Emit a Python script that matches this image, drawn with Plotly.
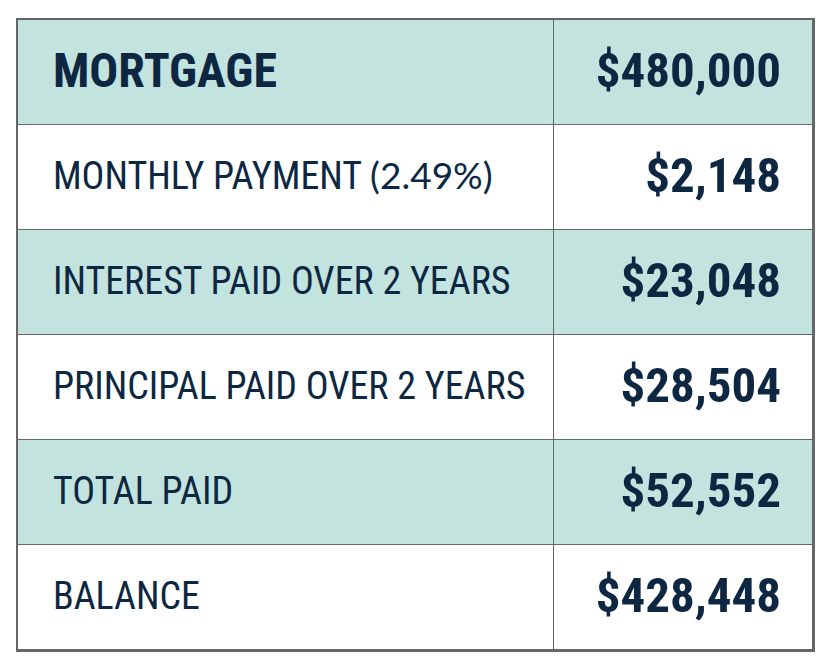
import plotly.graph_objects as go

# table content
labels = ["MORTGAGE", "MONTHLY PAYMENT", "INTEREST PAID OVER 2 YEARS",
          "PRINCIPAL PAID OVER 2 YEARS", "TOTAL PAID", "BALANCE"]
label_notes = ["", "(2.49%)", "", "", "", ""]
values = ["$480,000", "$2,148", "$23,048", "$28,504", "$52,552", "$428,448"]
shaded = [1, 0, 1, 0, 1, 0]

NAVY = "#0d2742"
TEAL = "#c3e3df"
LINE = "#666666"
FONT = "Roboto Condensed, Roboto, Liberation Sans, sans-serif"

col_edges = [0, 537, 797]
row_edges = list(range(len(labels) + 1))

fig = go.Figure()

# cell backgrounds: gaps let the grey plot background show as grid lines
fig.add_trace(go.Heatmap(
    x=col_edges,
    y=row_edges,
    z=[[s, s] for s in shaded],
    colorscale=[[0, "white"], [1, TEAL]],
    zmin=0, zmax=1,
    xgap=1, ygap=1,
    showscale=False,
    hoverinfo="skip",
))

label_text = []
for i, (lab, note) in enumerate(zip(labels, label_notes)):
    t = f"<b>{lab}</b>" if i == 0 else lab
    if note:
        t += f" <span style='font-family:Lato; font-size:37px'>{note}</span>"
    label_text.append(t)

# text sits a touch below the row centre, like the original
rows = [i + 0.52 for i in range(len(labels))]

fig.add_trace(go.Scatter(
    x=[35] * len(labels),
    y=rows,
    text=label_text,
    mode="text",
    textposition="middle right",
    textfont=dict(family=FONT, color=NAVY, size=[48] + [38] * (len(labels) - 1)),
    hoverinfo="skip",
    showlegend=False,
))

fig.add_trace(go.Scatter(
    x=[765] * len(values),
    y=rows,
    text=[f"<b>{v}</b>" for v in values],
    mode="text",
    textposition="middle left",
    textfont=dict(family=FONT, color=NAVY, size=49),
    hoverinfo="skip",
    showlegend=False,
))

axis_style = dict(showgrid=False, zeroline=False, showticklabels=False, ticks="",
                  showline=True, mirror=True, linecolor=LINE, linewidth=1.5)
fig.update_xaxes(range=[0, 797], **axis_style)
fig.update_yaxes(range=[6, 0], **axis_style)

# page body adds an 8px margin, so the figure is sized to fit inside it
fig.update_layout(
    width=815, height=653,
    margin=dict(l=10, r=8, t=12, b=11),
    plot_bgcolor=LINE,
    paper_bgcolor="white",
    showlegend=False,
)

fig.write_html("out.html", config={"displayModeBar": False})
